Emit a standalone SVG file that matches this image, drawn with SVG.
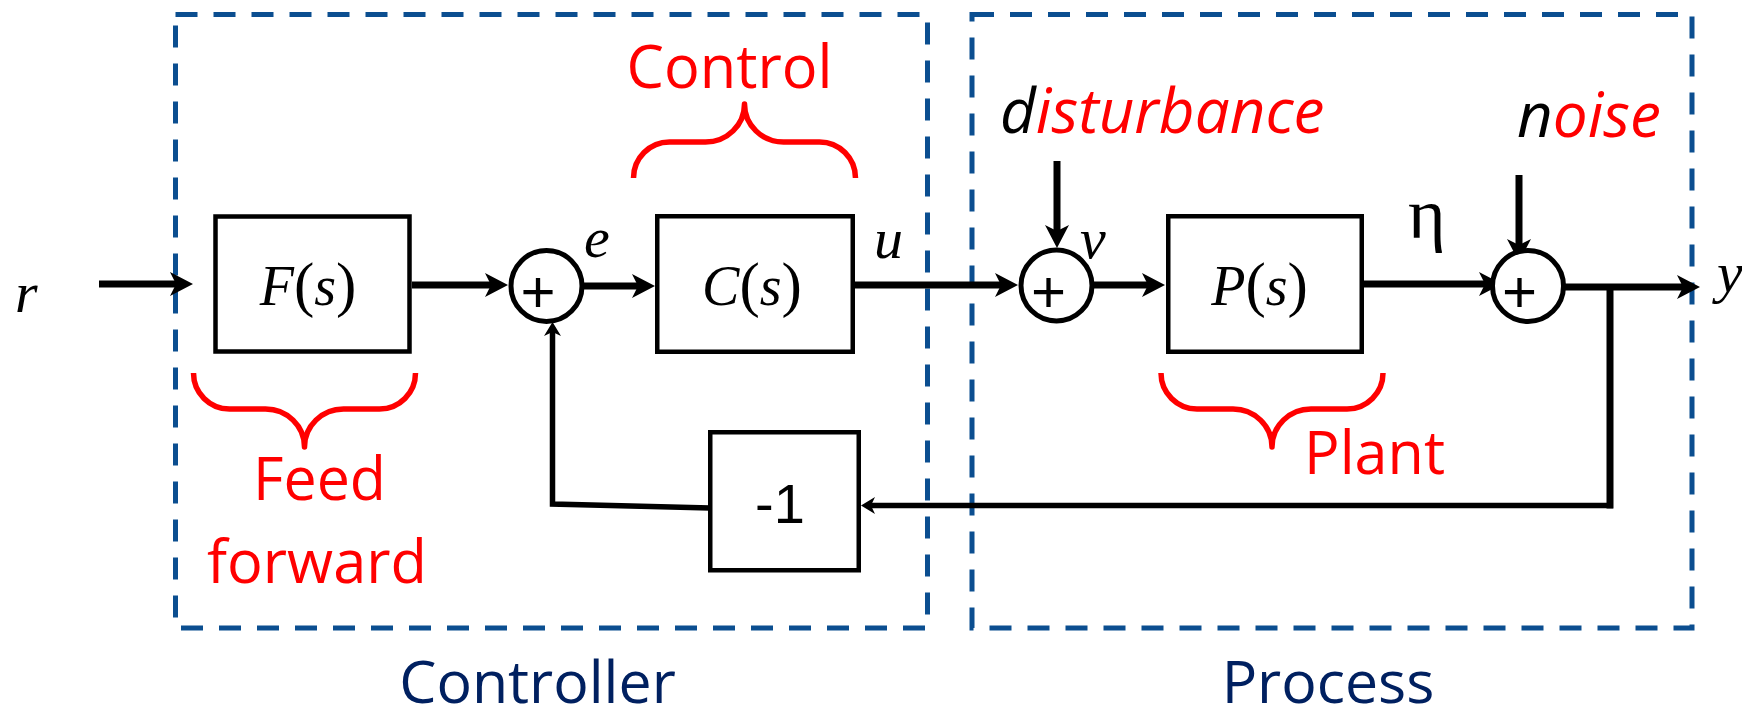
<svg xmlns="http://www.w3.org/2000/svg" width="1742" height="712" viewBox="0 0 1742 712">
<style>
.frame{fill:none;stroke:#0B4E90;stroke-width:5;stroke-dasharray:22 16}
.box{fill:#fff;stroke:#000;stroke-width:4.5}
.sum{fill:#fff;stroke:#000;stroke-width:5}
.sig{fill:none;stroke:#000;stroke-width:7}
.fb{fill:none;stroke:#000;stroke-width:5.5}
.brace{fill:none;stroke:#FF0000;stroke-width:5.5;stroke-linejoin:round}
.math{font-family:"Liberation Serif","Times New Roman",serif;font-size:56px;fill:#000}
.lbl{font-family:"Liberation Serif","Times New Roman",serif;font-size:58px;font-style:italic;fill:#000}
.it{font-style:italic}
.par{font-size:61px}
.plus{font-family:"Liberation Sans",Arial,sans-serif;font-size:60px;fill:#000;text-anchor:middle}
.red{font-family:"Open Sans","Noto Sans",sans-serif;font-size:60px;fill:#FF0000}
.redi{font-family:"Open Sans","Noto Sans",sans-serif;font-size:62px;font-style:italic;fill:#FF0000}
.navy{font-family:"Open Sans","Noto Sans",sans-serif;font-size:59px;fill:#002060;text-anchor:middle}
.k{fill:#000}
</style>
<defs>
<marker id="big" viewBox="-23 -12 23 24" refX="-17" refY="0" markerWidth="23" markerHeight="24" markerUnits="userSpaceOnUse" orient="auto">
<path d="M0,0 L-23,-12 L-17,0 L-23,12 Z" fill="#000"/>
</marker>
<marker id="small" viewBox="-14 -9 14 18" refX="-10" refY="0" markerWidth="14" markerHeight="18" markerUnits="userSpaceOnUse" orient="auto">
<path d="M0,0 L-14,-8.5 L-10,0 L-14,8.5 Z" fill="#000"/>
</marker>
</defs>
<rect width="1742" height="712" fill="#fff"/>

<g id="controller-frame">
<rect class="frame" x="175.5" y="14.5" width="752" height="613.5"/>
<text class="navy" x="537.5" y="703">Controller</text>
</g>
<g id="process-frame">
<rect class="frame" x="972" y="14.5" width="720" height="613.5"/>
<text class="navy" x="1328" y="703">Process</text>
</g>

<g id="connectors">
<line class="sig" x1="99" y1="284" x2="176" y2="284" marker-end="url(#big)"/>
<line class="sig" x1="412" y1="285" x2="491" y2="285" marker-end="url(#big)"/>
<line class="sig" x1="584" y1="286" x2="638" y2="286" marker-end="url(#big)"/>
<line class="sig" x1="855" y1="285" x2="1001" y2="285" marker-end="url(#big)"/>
<line class="sig" x1="1094" y1="285" x2="1148" y2="285" marker-end="url(#big)"/>
<line class="sig" x1="1057" y1="161" x2="1057" y2="231" marker-end="url(#big)"/>
<line class="sig" x1="1364" y1="284" x2="1485" y2="284" marker-end="url(#big)"/>
<line class="sig" x1="1519" y1="175" x2="1519" y2="245" marker-end="url(#big)"/>
<line class="sig" x1="1565" y1="287" x2="1683" y2="287" marker-end="url(#big)"/>
<line class="sig" x1="1610" y1="287" x2="1610" y2="508.5"/>
<line class="fb" x1="1613" y1="505.5" x2="871" y2="505.5" marker-end="url(#small)"/>
<polyline class="fb" points="710,508 552.5,504 552.5,332" stroke-width="6.5" stroke-linejoin="miter" marker-end="url(#small)"/>
</g>

<g id="r-label"><text class="lbl" x="15" y="312">r</text></g>

<g id="F">
<rect class="box" x="215.5" y="216.5" width="194" height="135"/>
<text class="math" x="308" y="305" text-anchor="middle"><tspan class="it">F</tspan><tspan class="par">(</tspan><tspan class="it">s</tspan><tspan class="par">)</tspan></text>
</g>

<g id="sum1">
<circle class="sum" cx="546.5" cy="286" r="35.5"/>
<text class="plus" x="538" y="312">+</text>
</g>
<g id="e-label"><text class="lbl" x="584" y="257">e</text></g>

<g id="C">
<rect class="box" x="657.25" y="216.25" width="195.5" height="135.5"/>
<text class="math" x="752" y="305" text-anchor="middle"><tspan class="it">C</tspan><tspan class="par">(</tspan><tspan class="it">s</tspan><tspan class="par">)</tspan></text>
</g>
<g id="u-label"><text class="lbl" x="874" y="258">u</text></g>

<g id="sum2">
<circle class="sum" cx="1056.5" cy="285.5" r="35.5"/>
<text class="plus" x="1048.5" y="312">+</text>
</g>
<g id="v-label"><text class="lbl" x="1080" y="258">v</text></g>

<g id="P">
<rect class="box" x="1168.25" y="216.25" width="193.5" height="135.5"/>
<text class="math" x="1259.5" y="305" text-anchor="middle"><tspan class="it">P</tspan><tspan class="par">(</tspan><tspan class="it">s</tspan><tspan class="par">)</tspan></text>
</g>
<g id="eta-label"><text x="1408" y="238" font-family="'Liberation Serif','Times New Roman',serif" font-size="72" fill="#000">η</text></g>

<g id="sum3">
<circle class="sum" cx="1528" cy="286" r="35.5"/>
<text class="plus" x="1519.5" y="311.5">+</text>
</g>
<g id="y-label"><text class="lbl" x="1717" y="292">y</text></g>

<g id="neg1">
<rect class="box" x="710.25" y="432.25" width="148.5" height="138"/>
<text x="755" y="523" font-family="'Liberation Sans',Arial,sans-serif" font-size="56" fill="#000">-1</text>
</g>

<g id="control-brace">
<path class="brace" d="M633.5,178 A36,36 0 0 1 669.5,142 L705.5,142 A39,38 0 0 0 744.5,104 A39,38 0 0 0 783.5,142 L819.5,142 A36,36 0 0 1 855.5,178"/>
<text class="red" x="729.5" y="88" text-anchor="middle" textLength="206" lengthAdjust="spacingAndGlyphs">Control</text>
</g>

<g id="feedforward-brace">
<path class="brace" d="M193.5,373 A36,36 0 0 0 229.5,409 L265.5,409 A39,38 0 0 1 304.5,447 A39,38 0 0 1 343.5,409 L379.5,409 A36,36 0 0 0 415.5,373"/>
<text class="red" x="319.5" y="500" text-anchor="middle" textLength="133" lengthAdjust="spacingAndGlyphs">Feed</text>
<text class="red" x="317" y="583" text-anchor="middle" textLength="220" lengthAdjust="spacingAndGlyphs">forward</text>
</g>

<g id="plant-brace">
<path class="brace" d="M1161,373 A36,36 0 0 0 1197,409 L1233,409 A39,38 0 0 1 1272,447 A39,38 0 0 1 1311,409 L1347,409 A36,36 0 0 0 1383,373"/>
<text class="red" x="1374.5" y="474" text-anchor="middle" textLength="141" lengthAdjust="spacingAndGlyphs">Plant</text>
</g>

<g id="disturbance-label">
<text class="redi" x="1000" y="133"><tspan class="k">d</tspan>isturbance</text>
</g>
<g id="noise-label">
<text class="redi" x="1517" y="137"><tspan class="k">n</tspan>oise</text>
</g>
</svg>
